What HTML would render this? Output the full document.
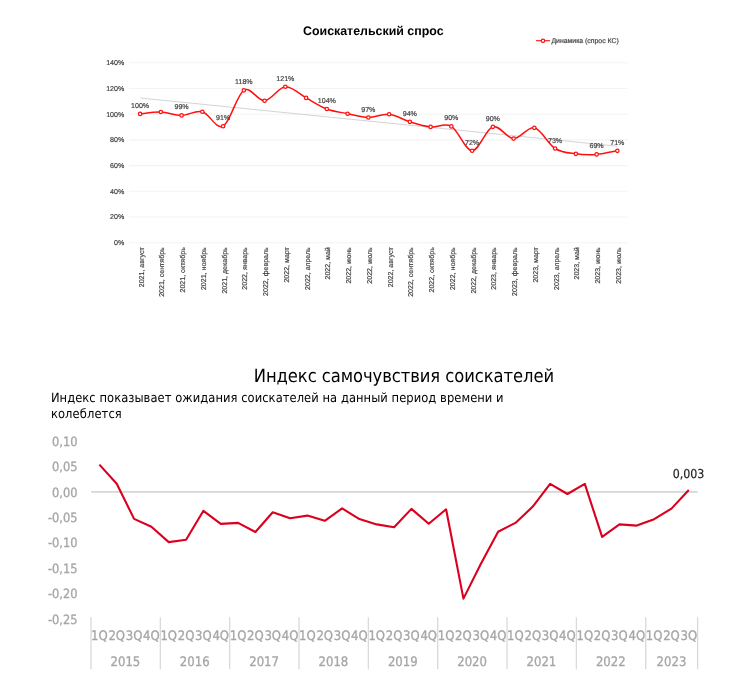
<!DOCTYPE html>
<html><head><meta charset="utf-8"><style>
html,body{margin:0;padding:0;background:#fff;}
body{width:748px;height:688px;overflow:hidden;position:relative;}
svg{position:absolute;left:0;top:0;text-rendering:geometricPrecision;}
.a{font-family:"Liberation Sans",Arial,sans-serif;}
.k{fill:#404040;stroke:#404040;stroke-width:0.18px;}
.gq{fill:#a6a6a6;stroke:#a6a6a6;stroke-width:0.3px;}
.t{font-family:"DejaVu Sans Condensed","DejaVu Sans",sans-serif;font-stretch:condensed;}
</style></head><body>
<svg width="748" height="688" viewBox="0 0 748 688">

<text class="a" x="373.3" y="35.2" text-anchor="middle" font-size="12.4" font-weight="bold" fill="#000">Соискательский спрос</text>
<line x1="536" y1="40.7" x2="550" y2="40.7" stroke="#ff1010" stroke-width="1.1"/>
<circle cx="543" cy="40.7" r="1.7" fill="#fff" stroke="#ff1010" stroke-width="1.25"/>
<text class="a k" x="551.4" y="43" font-size="6.9">Динамика (спрос КС)</text>
<line x1="129" y1="242.70" x2="627.5" y2="242.70" stroke="#f3f3f3" stroke-width="1.1"/>
<text class="a k" x="124.3" y="245.05" text-anchor="end" font-size="7.1">0%</text>
<line x1="129" y1="217.00" x2="627.5" y2="217.00" stroke="#f3f3f3" stroke-width="1.1"/>
<text class="a k" x="124.3" y="219.35" text-anchor="end" font-size="7.1">20%</text>
<line x1="129" y1="191.30" x2="627.5" y2="191.30" stroke="#f3f3f3" stroke-width="1.1"/>
<text class="a k" x="124.3" y="193.65" text-anchor="end" font-size="7.1">40%</text>
<line x1="129" y1="165.60" x2="627.5" y2="165.60" stroke="#f3f3f3" stroke-width="1.1"/>
<text class="a k" x="124.3" y="167.95" text-anchor="end" font-size="7.1">60%</text>
<line x1="129" y1="139.90" x2="627.5" y2="139.90" stroke="#f3f3f3" stroke-width="1.1"/>
<text class="a k" x="124.3" y="142.25" text-anchor="end" font-size="7.1">80%</text>
<line x1="129" y1="114.20" x2="627.5" y2="114.20" stroke="#f3f3f3" stroke-width="1.1"/>
<text class="a k" x="124.3" y="116.55" text-anchor="end" font-size="7.1">100%</text>
<line x1="129" y1="88.50" x2="627.5" y2="88.50" stroke="#f3f3f3" stroke-width="1.1"/>
<text class="a k" x="124.3" y="90.85" text-anchor="end" font-size="7.1">120%</text>
<line x1="129" y1="62.80" x2="627.5" y2="62.80" stroke="#f3f3f3" stroke-width="1.1"/>
<text class="a k" x="124.3" y="65.15" text-anchor="end" font-size="7.1">140%</text>
<line x1="140.3" y1="98.0" x2="617.4" y2="146.2" stroke="#c8c8c8" stroke-width="0.8"/>
<path d="M140.10,113.90 C143.56,113.58 153.93,111.75 160.85,112.00 C167.77,112.25 174.68,115.45 181.60,115.40 C188.52,115.35 195.43,109.90 202.35,111.70 C209.27,113.50 216.18,129.77 223.10,126.20 C230.02,122.63 236.93,94.55 243.85,90.30 C250.77,86.05 257.68,101.30 264.60,100.70 C271.52,100.10 278.43,87.17 285.35,86.70 C292.27,86.23 299.18,94.18 306.10,97.90 C313.02,101.62 319.93,106.37 326.85,109.00 C333.77,111.63 340.68,112.28 347.60,113.70 C354.52,115.12 361.43,117.42 368.35,117.50 C375.27,117.58 382.18,113.48 389.10,114.20 C396.02,114.92 402.93,119.68 409.85,121.80 C416.77,123.92 423.68,126.13 430.60,126.90 C437.52,127.67 444.43,122.43 451.35,126.40 C458.27,130.37 465.18,150.63 472.10,150.70 C479.02,150.77 485.93,128.82 492.85,126.80 C499.77,124.78 506.68,138.43 513.60,138.60 C520.52,138.77 527.43,126.15 534.35,127.80 C541.27,129.45 548.18,144.17 555.10,148.50 C562.02,152.83 568.93,152.82 575.85,153.80 C582.77,154.78 589.68,154.90 596.60,154.40 C603.52,153.90 613.89,151.40 617.35,150.80" fill="none" stroke="#ff1010" stroke-width="1.5"/>
<circle cx="140.10" cy="113.90" r="1.7" fill="#fff" stroke="#ff1010" stroke-width="1.25"/>
<circle cx="160.85" cy="112.00" r="1.7" fill="#fff" stroke="#ff1010" stroke-width="1.25"/>
<circle cx="181.60" cy="115.40" r="1.7" fill="#fff" stroke="#ff1010" stroke-width="1.25"/>
<circle cx="202.35" cy="111.70" r="1.7" fill="#fff" stroke="#ff1010" stroke-width="1.25"/>
<circle cx="223.10" cy="126.20" r="1.7" fill="#fff" stroke="#ff1010" stroke-width="1.25"/>
<circle cx="243.85" cy="90.30" r="1.7" fill="#fff" stroke="#ff1010" stroke-width="1.25"/>
<circle cx="264.60" cy="100.70" r="1.7" fill="#fff" stroke="#ff1010" stroke-width="1.25"/>
<circle cx="285.35" cy="86.70" r="1.7" fill="#fff" stroke="#ff1010" stroke-width="1.25"/>
<circle cx="306.10" cy="97.90" r="1.7" fill="#fff" stroke="#ff1010" stroke-width="1.25"/>
<circle cx="326.85" cy="109.00" r="1.7" fill="#fff" stroke="#ff1010" stroke-width="1.25"/>
<circle cx="347.60" cy="113.70" r="1.7" fill="#fff" stroke="#ff1010" stroke-width="1.25"/>
<circle cx="368.35" cy="117.50" r="1.7" fill="#fff" stroke="#ff1010" stroke-width="1.25"/>
<circle cx="389.10" cy="114.20" r="1.7" fill="#fff" stroke="#ff1010" stroke-width="1.25"/>
<circle cx="409.85" cy="121.80" r="1.7" fill="#fff" stroke="#ff1010" stroke-width="1.25"/>
<circle cx="430.60" cy="126.90" r="1.7" fill="#fff" stroke="#ff1010" stroke-width="1.25"/>
<circle cx="451.35" cy="126.40" r="1.7" fill="#fff" stroke="#ff1010" stroke-width="1.25"/>
<circle cx="472.10" cy="150.70" r="1.7" fill="#fff" stroke="#ff1010" stroke-width="1.25"/>
<circle cx="492.85" cy="126.80" r="1.7" fill="#fff" stroke="#ff1010" stroke-width="1.25"/>
<circle cx="513.60" cy="138.60" r="1.7" fill="#fff" stroke="#ff1010" stroke-width="1.25"/>
<circle cx="534.35" cy="127.80" r="1.7" fill="#fff" stroke="#ff1010" stroke-width="1.25"/>
<circle cx="555.10" cy="148.50" r="1.7" fill="#fff" stroke="#ff1010" stroke-width="1.25"/>
<circle cx="575.85" cy="153.80" r="1.7" fill="#fff" stroke="#ff1010" stroke-width="1.25"/>
<circle cx="596.60" cy="154.40" r="1.7" fill="#fff" stroke="#ff1010" stroke-width="1.25"/>
<circle cx="617.35" cy="150.80" r="1.7" fill="#fff" stroke="#ff1010" stroke-width="1.25"/>
<text class="a k" x="140.10" y="107.90" text-anchor="middle" font-size="7.1">100%</text>
<text class="a k" x="181.60" y="109.40" text-anchor="middle" font-size="7.1">99%</text>
<text class="a k" x="223.10" y="120.20" text-anchor="middle" font-size="7.1">91%</text>
<text class="a k" x="243.85" y="84.30" text-anchor="middle" font-size="7.1">118%</text>
<text class="a k" x="285.35" y="80.70" text-anchor="middle" font-size="7.1">121%</text>
<text class="a k" x="326.85" y="103.00" text-anchor="middle" font-size="7.1">104%</text>
<text class="a k" x="368.35" y="111.50" text-anchor="middle" font-size="7.1">97%</text>
<text class="a k" x="409.85" y="115.80" text-anchor="middle" font-size="7.1">94%</text>
<text class="a k" x="451.35" y="120.40" text-anchor="middle" font-size="7.1">90%</text>
<text class="a k" x="472.10" y="144.70" text-anchor="middle" font-size="7.1">72%</text>
<text class="a k" x="492.85" y="120.80" text-anchor="middle" font-size="7.1">90%</text>
<text class="a k" x="555.10" y="142.50" text-anchor="middle" font-size="7.1">73%</text>
<text class="a k" x="596.60" y="148.40" text-anchor="middle" font-size="7.1">69%</text>
<text class="a k" x="617.35" y="144.80" text-anchor="middle" font-size="7.1">71%</text>
<text class="a k" transform="translate(141.00,247.2) rotate(-90)" x="0" y="0" dy="2.5" text-anchor="end" font-size="7.05">2021, август</text>
<text class="a k" transform="translate(161.75,247.2) rotate(-90)" x="0" y="0" dy="2.5" text-anchor="end" font-size="7.05">2021, сентябрь</text>
<text class="a k" transform="translate(182.50,247.2) rotate(-90)" x="0" y="0" dy="2.5" text-anchor="end" font-size="7.05">2021, октябрь</text>
<text class="a k" transform="translate(203.25,247.2) rotate(-90)" x="0" y="0" dy="2.5" text-anchor="end" font-size="7.05">2021, ноябрь</text>
<text class="a k" transform="translate(224.00,247.2) rotate(-90)" x="0" y="0" dy="2.5" text-anchor="end" font-size="7.05">2021, декабрь</text>
<text class="a k" transform="translate(244.75,247.2) rotate(-90)" x="0" y="0" dy="2.5" text-anchor="end" font-size="7.05">2022, январь</text>
<text class="a k" transform="translate(265.50,247.2) rotate(-90)" x="0" y="0" dy="2.5" text-anchor="end" font-size="7.05">2022, февраль</text>
<text class="a k" transform="translate(286.25,247.2) rotate(-90)" x="0" y="0" dy="2.5" text-anchor="end" font-size="7.05">2022, март</text>
<text class="a k" transform="translate(307.00,247.2) rotate(-90)" x="0" y="0" dy="2.5" text-anchor="end" font-size="7.05">2022, апрель</text>
<text class="a k" transform="translate(327.75,247.2) rotate(-90)" x="0" y="0" dy="2.5" text-anchor="end" font-size="7.05">2022, май</text>
<text class="a k" transform="translate(348.50,247.2) rotate(-90)" x="0" y="0" dy="2.5" text-anchor="end" font-size="7.05">2022, июнь</text>
<text class="a k" transform="translate(369.25,247.2) rotate(-90)" x="0" y="0" dy="2.5" text-anchor="end" font-size="7.05">2022, июль</text>
<text class="a k" transform="translate(390.00,247.2) rotate(-90)" x="0" y="0" dy="2.5" text-anchor="end" font-size="7.05">2022, август</text>
<text class="a k" transform="translate(410.75,247.2) rotate(-90)" x="0" y="0" dy="2.5" text-anchor="end" font-size="7.05">2022, сентябрь</text>
<text class="a k" transform="translate(431.50,247.2) rotate(-90)" x="0" y="0" dy="2.5" text-anchor="end" font-size="7.05">2022, октябрь</text>
<text class="a k" transform="translate(452.25,247.2) rotate(-90)" x="0" y="0" dy="2.5" text-anchor="end" font-size="7.05">2022, ноябрь</text>
<text class="a k" transform="translate(473.00,247.2) rotate(-90)" x="0" y="0" dy="2.5" text-anchor="end" font-size="7.05">2022, декабрь</text>
<text class="a k" transform="translate(493.75,247.2) rotate(-90)" x="0" y="0" dy="2.5" text-anchor="end" font-size="7.05">2023, январь</text>
<text class="a k" transform="translate(514.50,247.2) rotate(-90)" x="0" y="0" dy="2.5" text-anchor="end" font-size="7.05">2023, февраль</text>
<text class="a k" transform="translate(535.25,247.2) rotate(-90)" x="0" y="0" dy="2.5" text-anchor="end" font-size="7.05">2023, март</text>
<text class="a k" transform="translate(556.00,247.2) rotate(-90)" x="0" y="0" dy="2.5" text-anchor="end" font-size="7.05">2023, апрель</text>
<text class="a k" transform="translate(576.75,247.2) rotate(-90)" x="0" y="0" dy="2.5" text-anchor="end" font-size="7.05">2023, май</text>
<text class="a k" transform="translate(597.50,247.2) rotate(-90)" x="0" y="0" dy="2.5" text-anchor="end" font-size="7.05">2023, июнь</text>
<text class="a k" transform="translate(618.25,247.2) rotate(-90)" x="0" y="0" dy="2.5" text-anchor="end" font-size="7.05">2023, июль</text>
<text class="t" x="253.7" y="382.4" font-size="18.2" textLength="300.4" lengthAdjust="spacing" fill="#000">Индекс самочувствия соискателей</text>
<text class="t" x="50.9" y="401.6" font-size="12.8" textLength="452.7" lengthAdjust="spacing" fill="#000">Индекс показывает ожидания соискателей на данный период времени и</text>
<text class="t" x="50.9" y="417.7" font-size="12.8" textLength="70.9" lengthAdjust="spacing" fill="#000">колеблется</text>
<text class="t gq" x="77.5" y="445.80" text-anchor="end" font-size="12.7">0,10</text>
<text class="t gq" x="77.5" y="471.20" text-anchor="end" font-size="12.7">0,05</text>
<text class="t gq" x="77.5" y="496.60" text-anchor="end" font-size="12.7">0,00</text>
<text class="t gq" x="77.5" y="522.00" text-anchor="end" font-size="12.7">-0,05</text>
<text class="t gq" x="77.5" y="547.40" text-anchor="end" font-size="12.7">-0,10</text>
<text class="t gq" x="77.5" y="572.80" text-anchor="end" font-size="12.7">-0,15</text>
<text class="t gq" x="77.5" y="598.20" text-anchor="end" font-size="12.7">-0,20</text>
<text class="t gq" x="77.5" y="623.60" text-anchor="end" font-size="12.7">-0,25</text>
<line x1="91.2" y1="491.85" x2="697.5" y2="491.85" stroke="#d6d6d6" stroke-width="1.9"/>
<polyline points="99.40,464.60 116.74,483.70 134.07,518.90 151.41,526.70 168.74,542.10 186.08,539.80 203.41,510.80 220.75,523.90 238.08,522.90 255.42,532.00 272.75,512.20 290.09,518.20 307.42,515.60 324.75,520.80 342.09,508.40 359.43,519.10 376.76,524.40 394.10,527.20 411.43,508.90 428.76,523.80 446.10,509.30 463.44,598.60 480.77,564.00 498.11,531.70 515.44,522.90 532.77,506.60 550.11,483.80 567.45,494.00 584.78,483.80 602.12,536.90 619.45,524.40 636.78,525.60 654.12,519.20 671.46,508.60 688.79,490.00" fill="none" stroke="#da001e" stroke-width="2.1" stroke-linejoin="round"/>
<text class="t" x="688.5" y="478.2" text-anchor="middle" font-size="12.3" fill="#262626" stroke="#262626" stroke-width="0.2">0,003</text>
<line x1="91.00" y1="617.3" x2="91.00" y2="669.3" stroke="#d9d9d9" stroke-width="1.3"/>
<line x1="160.34" y1="617.3" x2="160.34" y2="669.3" stroke="#d9d9d9" stroke-width="1.3"/>
<line x1="229.68" y1="617.3" x2="229.68" y2="669.3" stroke="#d9d9d9" stroke-width="1.3"/>
<line x1="299.02" y1="617.3" x2="299.02" y2="669.3" stroke="#d9d9d9" stroke-width="1.3"/>
<line x1="368.36" y1="617.3" x2="368.36" y2="669.3" stroke="#d9d9d9" stroke-width="1.3"/>
<line x1="437.70" y1="617.3" x2="437.70" y2="669.3" stroke="#d9d9d9" stroke-width="1.3"/>
<line x1="507.04" y1="617.3" x2="507.04" y2="669.3" stroke="#d9d9d9" stroke-width="1.3"/>
<line x1="576.38" y1="617.3" x2="576.38" y2="669.3" stroke="#d9d9d9" stroke-width="1.3"/>
<line x1="645.72" y1="617.3" x2="645.72" y2="669.3" stroke="#d9d9d9" stroke-width="1.3"/>
<line x1="697.60" y1="617.3" x2="697.60" y2="669.3" stroke="#d9d9d9" stroke-width="1.3"/>
<text class="t gq" x="99.40" y="640" text-anchor="middle" font-size="13">1Q</text>
<text class="t gq" x="116.74" y="640" text-anchor="middle" font-size="13">2Q</text>
<text class="t gq" x="134.07" y="640" text-anchor="middle" font-size="13">3Q</text>
<text class="t gq" x="151.41" y="640" text-anchor="middle" font-size="13">4Q</text>
<text class="t gq" x="168.74" y="640" text-anchor="middle" font-size="13">1Q</text>
<text class="t gq" x="186.08" y="640" text-anchor="middle" font-size="13">2Q</text>
<text class="t gq" x="203.41" y="640" text-anchor="middle" font-size="13">3Q</text>
<text class="t gq" x="220.75" y="640" text-anchor="middle" font-size="13">4Q</text>
<text class="t gq" x="238.08" y="640" text-anchor="middle" font-size="13">1Q</text>
<text class="t gq" x="255.42" y="640" text-anchor="middle" font-size="13">2Q</text>
<text class="t gq" x="272.75" y="640" text-anchor="middle" font-size="13">3Q</text>
<text class="t gq" x="290.09" y="640" text-anchor="middle" font-size="13">4Q</text>
<text class="t gq" x="307.42" y="640" text-anchor="middle" font-size="13">1Q</text>
<text class="t gq" x="324.75" y="640" text-anchor="middle" font-size="13">2Q</text>
<text class="t gq" x="342.09" y="640" text-anchor="middle" font-size="13">3Q</text>
<text class="t gq" x="359.43" y="640" text-anchor="middle" font-size="13">4Q</text>
<text class="t gq" x="376.76" y="640" text-anchor="middle" font-size="13">1Q</text>
<text class="t gq" x="394.10" y="640" text-anchor="middle" font-size="13">2Q</text>
<text class="t gq" x="411.43" y="640" text-anchor="middle" font-size="13">3Q</text>
<text class="t gq" x="428.76" y="640" text-anchor="middle" font-size="13">4Q</text>
<text class="t gq" x="446.10" y="640" text-anchor="middle" font-size="13">1Q</text>
<text class="t gq" x="463.44" y="640" text-anchor="middle" font-size="13">2Q</text>
<text class="t gq" x="480.77" y="640" text-anchor="middle" font-size="13">3Q</text>
<text class="t gq" x="498.11" y="640" text-anchor="middle" font-size="13">4Q</text>
<text class="t gq" x="515.44" y="640" text-anchor="middle" font-size="13">1Q</text>
<text class="t gq" x="532.77" y="640" text-anchor="middle" font-size="13">2Q</text>
<text class="t gq" x="550.11" y="640" text-anchor="middle" font-size="13">3Q</text>
<text class="t gq" x="567.45" y="640" text-anchor="middle" font-size="13">4Q</text>
<text class="t gq" x="584.78" y="640" text-anchor="middle" font-size="13">1Q</text>
<text class="t gq" x="602.12" y="640" text-anchor="middle" font-size="13">2Q</text>
<text class="t gq" x="619.45" y="640" text-anchor="middle" font-size="13">3Q</text>
<text class="t gq" x="636.78" y="640" text-anchor="middle" font-size="13">4Q</text>
<text class="t gq" x="654.12" y="640" text-anchor="middle" font-size="13">1Q</text>
<text class="t gq" x="671.46" y="640" text-anchor="middle" font-size="13">2Q</text>
<text class="t gq" x="688.79" y="640" text-anchor="middle" font-size="13">3Q</text>
<text class="t gq" x="125.40" y="665.8" text-anchor="middle" font-size="13">2015</text>
<text class="t gq" x="194.74" y="665.8" text-anchor="middle" font-size="13">2016</text>
<text class="t gq" x="264.08" y="665.8" text-anchor="middle" font-size="13">2017</text>
<text class="t gq" x="333.42" y="665.8" text-anchor="middle" font-size="13">2018</text>
<text class="t gq" x="402.76" y="665.8" text-anchor="middle" font-size="13">2019</text>
<text class="t gq" x="472.10" y="665.8" text-anchor="middle" font-size="13">2020</text>
<text class="t gq" x="541.44" y="665.8" text-anchor="middle" font-size="13">2021</text>
<text class="t gq" x="610.78" y="665.8" text-anchor="middle" font-size="13">2022</text>
<text class="t gq" x="671.46" y="665.8" text-anchor="middle" font-size="13">2023</text>
</svg></body></html>
